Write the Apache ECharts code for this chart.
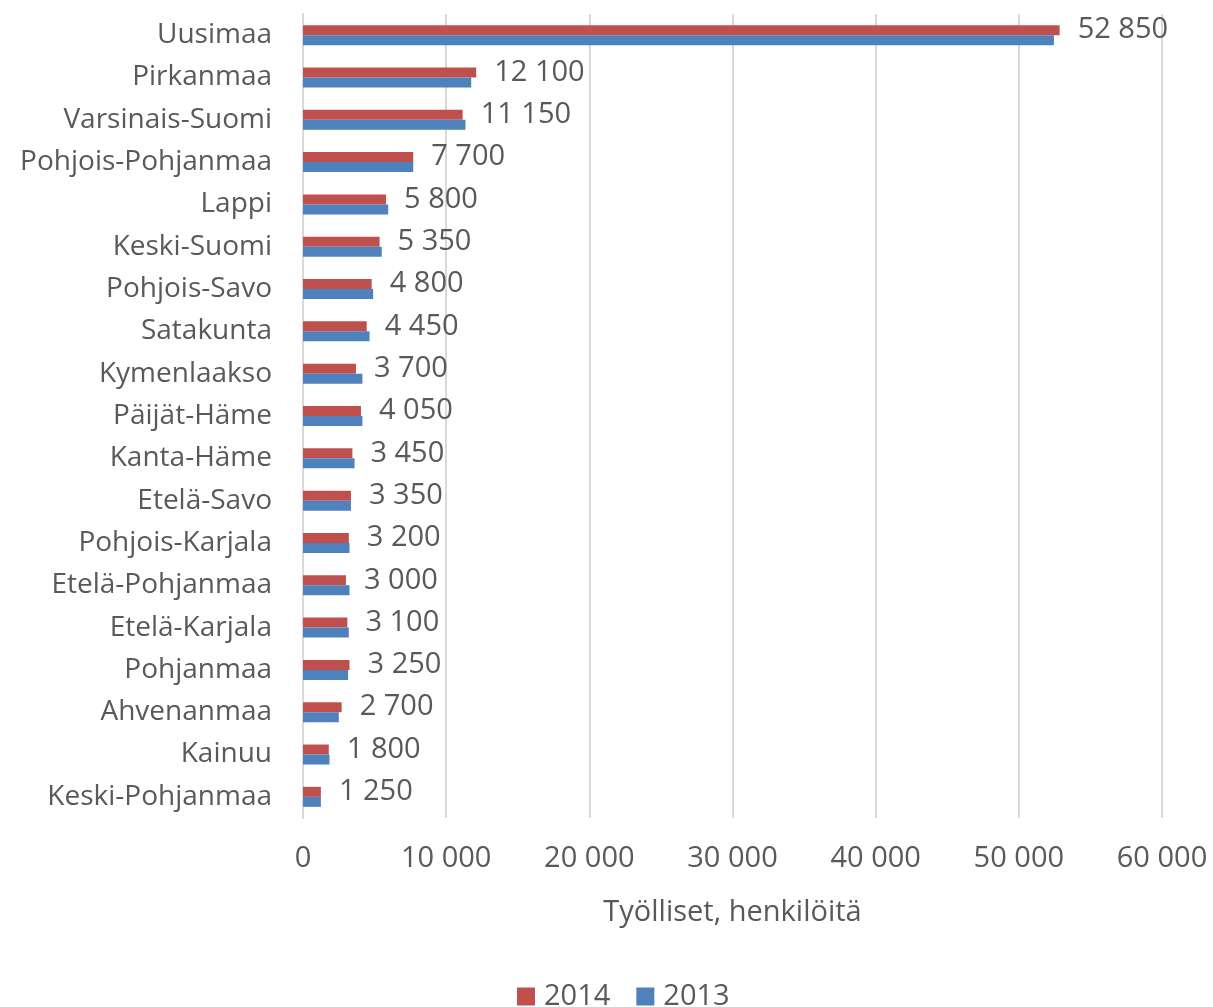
<!DOCTYPE html>
<html>
<head>
<meta charset="utf-8">
<script src="https://cdn.jsdelivr.net/npm/echarts@6/dist/echarts.min.js"></script>
<style>
    html, body { margin: 0; padding: 0; background: #fff; }
    #chart { width: 1213px; height: 1007px; }
</style>
</head>
<body>
<div id="chart"></div>
<script>
    // maakunnat, ylhäältä alas
    var regions = ['Uusimaa', 'Pirkanmaa', 'Varsinais-Suomi', 'Pohjois-Pohjanmaa', 'Lappi', 'Keski-Suomi',
        'Pohjois-Savo', 'Satakunta', 'Kymenlaakso', 'Päijät-Häme', 'Kanta-Häme', 'Etelä-Savo',
        'Pohjois-Karjala', 'Etelä-Pohjanmaa', 'Etelä-Karjala', 'Pohjanmaa', 'Ahvenanmaa', 'Kainuu',
        'Keski-Pohjanmaa'];
    var values2014 = [52850, 12100, 11150, 7700, 5800, 5350, 4800, 4450, 3700, 4050, 3450, 3350,
        3200, 3000, 3100, 3250, 2700, 1800, 1250];
    // 2013 arvioitu kuvasta
    var values2013 = [52450, 11750, 11350, 7700, 5950, 5500, 4900, 4650, 4150, 4150, 3600, 3350,
        3250, 3250, 3200, 3150, 2500, 1850, 1250];
    var xTicks = [0, 10000, 20000, 30000, 40000, 50000, 60000];

    var font = 'Open Sans';
    var textColor = '#595959';

    function fmt(v) {
        return String(v).replace(/\B(?=(\d{3})+(?!\d))/g, ' ');
    }

    var chart = echarts.init(document.getElementById('chart'));
    chart.setOption({
        animation: false,
        backgroundColor: '#fff',
        textStyle: { fontFamily: font },
        grid: {
            left: 303,
            right: 51,
            top: 14,
            bottom: 189,
            containLabel: false
        },
        legend: {
            data: ['2014', '2013'],
            top: 977,
            left: 512,
            itemWidth: 18,
            itemHeight: 18,
            itemGap: 26,
            icon: 'rect',
            textStyle: { color: textColor, fontSize: 29, fontFamily: font, padding: [0, 0, 0, 4] }
        },
        xAxis: {
            type: 'value',
            min: xTicks[0],
            max: xTicks[xTicks.length - 1],
            interval: 10000,
            name: 'Työlliset, henkilöitä',
            nameLocation: 'middle',
            nameGap: 80,
            nameTextStyle: { color: textColor, fontSize: 29, fontFamily: font },
            axisLine: { show: false },
            axisTick: { show: false },
            axisLabel: {
                color: textColor,
                fontSize: 29,
                margin: 26,
                formatter: function (v) { return fmt(v); }
            },
            splitLine: { show: true, lineStyle: { color: '#d9d9d9', width: 2 } }
        },
        yAxis: {
            type: 'category',
            data: regions,
            inverse: true,
            axisLine: { show: true, lineStyle: { color: '#d9d9d9', width: 2 } },
            axisTick: { show: false },
            axisLabel: { color: textColor, fontSize: 28, margin: 31 }
        },
        series: [{
            name: '2014',
            type: 'bar',
            data: values2014,
            barWidth: 10,
            barGap: '0%',
            itemStyle: { color: '#C0504D' },
            label: {
                show: true,
                position: 'right',
                distance: 18,
                color: textColor,
                fontSize: 29,
                fontFamily: font,
                formatter: function (p) { return fmt(p.value); }
            }
        }, {
            name: '2013',
            type: 'bar',
            data: values2013,
            barWidth: 10,
            barGap: '0%',
            itemStyle: { color: '#4F81BD' }
        }]
    });
</script>
</body>
</html>
